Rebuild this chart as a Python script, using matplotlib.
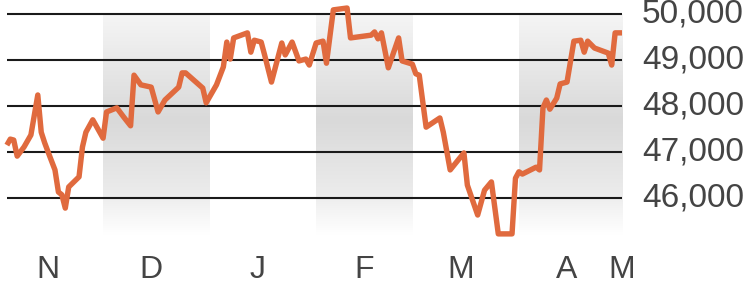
import numpy as np
import pandas as pd
import matplotlib
matplotlib.use('Agg')
import matplotlib.pyplot as plt
import matplotlib.dates as mdates
from matplotlib.colors import LinearSegmentedColormap

plt.rcParams['font.family'] = ['Liberation Sans', 'DejaVu Sans']

start = pd.Timestamp('2022-11-01')
day_offsets = [2, 3, 4, 5, 7, 9, 11, 12, 13, 14, 16, 17, 18, 19, 20, 23, 24, 25, 27, 30,
               31, 34, 36, 38, 39, 41, 44, 46, 48, 52, 53, 54, 59, 60, 63, 65, 66, 67, 68, 72,
               73, 74, 76, 77, 79, 82, 83, 85, 87, 89, 90, 92, 94, 95, 97, 101, 102, 108, 109, 110,
               111, 113, 116, 117, 120, 121, 122, 124, 128, 129, 131, 135, 136, 139, 141, 143, 145, 149, 150, 151,
               152, 156, 157, 158, 159, 160, 162, 163, 165, 167, 169, 170, 171, 173, 177, 178, 179, 181]
values = [47150, 47280, 47260, 46910, 47110, 47370, 48240, 47430, 47200, 47000,
          46610, 46130, 46070, 45780, 46240, 46460, 47110, 47430, 47700, 47300,
          47870, 47960, 47760, 47570, 48670, 48460, 48410, 47870, 48130, 48410,
          48720, 48720, 48390, 48070, 48460, 48850, 49390, 49020, 49480, 49590,
          49170, 49430, 49390, 49110, 48520, 49370, 49110, 49390, 48980, 49020,
          48890, 49370, 49410, 48930, 50090, 50130, 49480, 49540, 49610, 49460,
          49590, 48830, 49480, 48980, 48910, 48700, 48670, 47540, 47740, 47430,
          46610, 46980, 46280, 45630, 46170, 46350, 45220, 45220, 46430, 46570,
          46520, 46670, 46610, 47960, 48130, 47930, 48170, 48480, 48520, 49410,
          49430, 49170, 49410, 49260, 49150, 48890, 49590, 49590]

y_ticks = [46000, 47000, 48000, 49000, 50000]
y_labels = ['46,000', '47,000', '48,000', '49,000', '50,000']
month_ticks = ['2022-11-15', '2022-12-15', '2023-01-15', '2023-02-15',
               '2023-03-15', '2023-04-15', '2023-05-01']
month_labels = ['N', 'D', 'J', 'F', 'M', 'A', 'M']
shaded_months = [('2022-12-01', '2023-01-01'),
                 ('2023-02-01', '2023-03-01'),
                 ('2023-04-01', '2023-05-01')]

dates = start + pd.to_timedelta(day_offsets, unit='D')

W, H = 745, 287
fig = plt.figure(figsize=(W / 100, H / 100), dpi=100)
ax_left, ax_right, ax_top, ax_bot = 7, 622, 0, 240
ax = fig.add_axes([ax_left / W, (H - ax_bot) / H, (ax_right - ax_left) / W, (ax_bot - ax_top) / H])

# y scale: gridline 50000 at px 14, 46 px per 1000
px_per_unit = 46 / 1000
ymax = 50000 + 14 / px_per_unit
ymin = 50000 - (ax_bot - 14) / px_per_unit
x0 = mdates.date2num(start) + 2.04
x1 = mdates.date2num(pd.Timestamp('2023-05-01'))

# shaded gradient bands
shade_bottom = 50000 - (235 - 14) / px_per_unit
cmap = LinearSegmentedColormap.from_list(
    'band', [(0.0, '#f5f5f5'), (0.48, '#d9d9d9'), (0.8, '#ebebeb'), (1.0, '#ffffff')])
grad = np.linspace(0, 1, 256).reshape(-1, 1)
for a, b in shaded_months:
    xa = mdates.date2num(pd.Timestamp(a))
    xb = mdates.date2num(pd.Timestamp(b))
    ax.imshow(grad, cmap=cmap, aspect='auto', origin='upper',
              extent=[xa, xb, shade_bottom, 50000], zorder=0, interpolation='bicubic')

for v in y_ticks:
    ax.axhline(v, color='#1a1a1a', lw=1.5, zorder=1)

ax.plot(dates, values, color='#e06a3e', lw=3.9, zorder=3, clip_on=False,
        solid_joinstyle='round', solid_capstyle='butt')

ax.set_xlim(x0, x1)
ax.set_ylim(ymin, ymax)
for s in ax.spines.values():
    s.set_visible(False)

ax.yaxis.tick_right()
ax.set_yticks(y_ticks)
ax.set_yticklabels(y_labels)
ax.set_xticks([mdates.date2num(pd.Timestamp(t)) for t in month_ticks])
ax.set_xticklabels(month_labels)
ax.tick_params(axis='y', length=0, pad=14.5, labelsize=24, labelcolor='#444444')
ax.tick_params(axis='x', length=0, pad=10.5, labelsize=23, labelcolor='#444444')
for lbl in ax.get_yticklabels():
    lbl.set_verticalalignment('center')

fig.savefig('out.png', dpi=100)
